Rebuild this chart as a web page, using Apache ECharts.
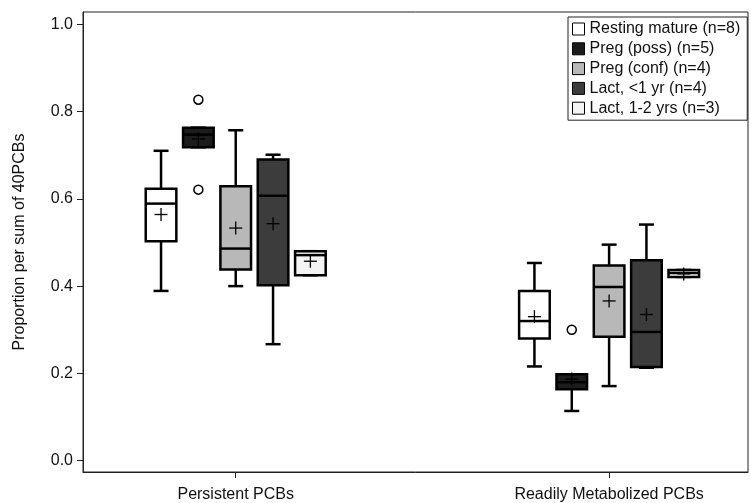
<!DOCTYPE html>
<html>
<head>
<meta charset="utf-8">
<script src="https://cdn.jsdelivr.net/npm/echarts@6/dist/echarts.min.js"></script>
<style>html,body{margin:0;padding:0;background:#fff;}#c{width:751px;height:503px;}</style>
</head>
<body>
<div id="c"></div>
<script>
// Categories (x ticks)
const categories = ['Persistent PCBs', 'Readily Metabolized PCBs'];
// Groups (legend)
const groupNames = ['Resting mature (n=8)', 'Preg (poss) (n=5)', 'Preg (conf) (n=4)', 'Lact, <1 yr (n=4)', 'Lact, 1-2 yrs (n=3)'];
const groupColors = ['#ffffff', '#1c1c1c', '#b8b8b8', '#3c3c3c', '#f4f4f4'];
// Box stats per category: [low, q1, median, q3, high, mean]
const restingMature = [[0.389, 0.503, 0.589, 0.623, 0.710, 0.564], [0.216, 0.280, 0.320, 0.389, 0.453, 0.330]];
const pregPoss      = [[0.718, 0.718, 0.747, 0.763, 0.763, 0.737], [0.114, 0.164, 0.180, 0.198, 0.198, 0.187]];
const pregConf      = [[0.400, 0.438, 0.486, 0.629, 0.757, 0.533], [0.171, 0.284, 0.398, 0.447, 0.495, 0.366]];
const lactLt1       = [[0.267, 0.402, 0.607, 0.690, 0.701, 0.543], [0.213, 0.215, 0.295, 0.459, 0.541, 0.335]];
const lact1to2      = [[0.425, 0.425, 0.471, 0.480, 0.480, 0.457], [0.421, 0.421, 0.430, 0.437, 0.437, 0.428]];
// Outliers per category
const restingMatureOut = [[], []];
const pregPossOut      = [[0.827, 0.621], [0.300]];
const pregConfOut      = [[], []];
const lactLt1Out       = [[], []];
const lact1to2Out      = [[], []];
// Y tick labels
const yTicks = [0, 0.2, 0.4, 0.6, 0.8, 1.0];

const stats = [restingMature, pregPoss, pregConf, lactLt1, lact1to2];
const outs = [restingMatureOut, pregPossOut, pregConfOut, lactLt1Out, lact1to2Out];
const FONT = "'Liberation Sans', Arial, sans-serif";
const STEP = 0.1, BOXW = 0.082;

function renderBox(params, api) {
  const x = api.value(0);
  const low = api.value(1), q1 = api.value(2), med = api.value(3), q3 = api.value(4), high = api.value(5), mean = api.value(6);
  const hw = api.size([BOXW, 0])[0] / 2;
  const P = v => api.coord([x, v]);
  const cx = P(0)[0];
  const yl = P(low)[1], y1 = P(q1)[1], ym = P(med)[1], y3 = P(q3)[1], yh = P(high)[1], ymean = P(mean)[1];
  const cw = 7.5, pm = 6.5;
  const ls = { stroke: '#000', lineWidth: 2.5 };
  const color = api.visual('color');
  return {
    type: 'group',
    children: [
      { type: 'line', shape: { x1: cx, y1: yh, x2: cx, y2: y3 }, style: ls },
      { type: 'line', shape: { x1: cx, y1: y1, x2: cx, y2: yl }, style: ls },
      { type: 'line', shape: { x1: cx - cw, y1: yh, x2: cx + cw, y2: yh }, style: ls },
      { type: 'line', shape: { x1: cx - cw, y1: yl, x2: cx + cw, y2: yl }, style: ls },
      { type: 'rect', shape: { x: cx - hw, y: y3, width: 2 * hw, height: y1 - y3 }, style: { fill: color, stroke: '#000', lineWidth: 2.5 } },
      { type: 'line', shape: { x1: cx - hw, y1: ym, x2: cx + hw, y2: ym }, style: ls },
      { type: 'line', shape: { x1: cx - pm, y1: ymean, x2: cx + pm, y2: ymean }, style: { stroke: '#000', lineWidth: 1.3 } },
      { type: 'line', shape: { x1: cx, y1: ymean - pm, x2: cx, y2: ymean + pm }, style: { stroke: '#000', lineWidth: 1.3 } }
    ]
  };
}

const series = [];
groupNames.forEach((name, g) => {
  const off = (g - 2) * STEP;
  series.push({
    name: name,
    type: 'custom',
    renderItem: renderBox,
    itemStyle: { color: groupColors[g], borderColor: '#000' },
    encode: { x: 0, y: [1, 2, 3, 4, 5, 6] },
    data: stats[g].map((s, i) => [i + 1 + off].concat(s)),
    z: 3
  });
  const pts = [];
  outs[g].forEach((arr, i) => arr.forEach(v => pts.push([i + 1 + off, v])));
  if (pts.length) {
    series.push({
      type: 'scatter',
      symbol: 'circle',
      symbolSize: 9,
      itemStyle: { color: '#fff', borderColor: '#000', borderWidth: 1.5, opacity: 1 },
      data: pts,
      z: 4
    });
  }
});

const chart = echarts.init(document.getElementById('c'));
chart.setOption({
  animation: false,
  backgroundColor: '#fff',
  textStyle: { fontFamily: FONT },
  grid: { left: 83, right: 3, top: 12, bottom: 30, show: true, borderColor: '#222', borderWidth: 1, backgroundColor: 'transparent', containLabel: false },
  legend: {
    left: 568, top: 17,
    orient: 'vertical',
    borderColor: '#222', borderWidth: 1,
    padding: [4, 7, 4, 4],
    itemWidth: 12, itemHeight: 12, itemGap: 3.8,
    icon: 'rect',
    textStyle: { fontFamily: FONT, fontSize: 16, color: '#111' },
    data: groupNames.map((n, g) => ({ name: n, itemStyle: { color: groupColors[g], borderColor: '#000', borderWidth: 1 } })),
    selectedMode: false
  },
  xAxis: {
    type: 'value',
    min: 0.591, max: 2.372,
    splitLine: { show: false },
    axisLine: { show: true, onZero: false, lineStyle: { color: '#222', width: 1 } },
    axisTick: { show: true, length: 6, customValues: [1, 2], lineStyle: { color: '#222' } },
    axisLabel: { customValues: [1, 2], formatter: v => categories[Math.round(v) - 1] || '', fontSize: 16, color: '#111', margin: 15, fontFamily: FONT }
  },
  yAxis: {
    type: 'value',
    min: -0.0258, max: 1.0279,
    name: 'Proportion per sum of 40PCBs',
    nameLocation: 'middle',
    nameGap: 55,
    nameTextStyle: { fontSize: 16, color: '#111', fontFamily: FONT },
    splitLine: { show: false },
    axisLine: { show: true, onZero: false, lineStyle: { color: '#222', width: 1 } },
    axisTick: { show: true, length: 6, customValues: yTicks, lineStyle: { color: '#222' } },
    axisLabel: { customValues: yTicks, formatter: v => v.toFixed(1), fontSize: 16, color: '#111', margin: 10, fontFamily: FONT }
  },
  series: series
});
</script>
</body>
</html>
